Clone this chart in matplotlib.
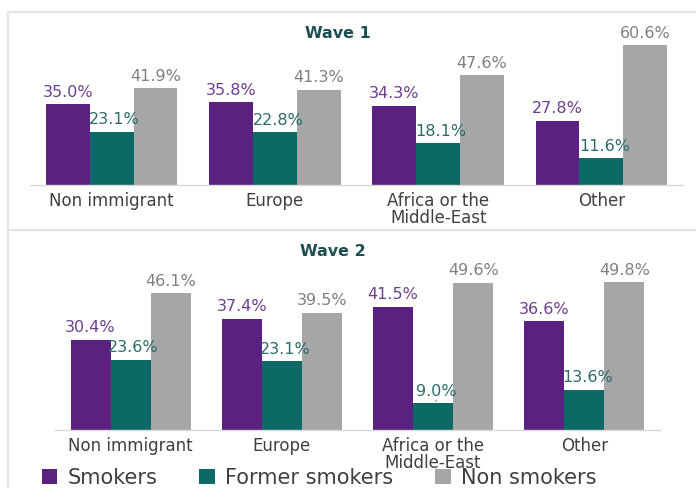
import matplotlib
matplotlib.use("Agg")
import matplotlib.pyplot as plt
from matplotlib.lines import Line2D
import numpy as np

categories = ["Non immigrant", "Europe", "Africa or the\nMiddle-East", "Other"]
series_names = ["Smokers", "Former smokers", "Non smokers"]
wave1_smokers = [35.0, 35.8, 34.3, 27.8]
wave1_former = [23.1, 22.8, 18.1, 11.6]
wave1_non = [41.9, 41.3, 47.6, 60.6]
wave2_smokers = [30.4, 37.4, 41.5, 36.6]
wave2_former = [23.6, 23.1, 9.0, 13.6]
wave2_non = [46.1, 39.5, 49.6, 49.8]

bar_colors = ["#5A2181", "#0C6966", "#A6A6A6"]
label_colors = ["#6E3F8C", "#2E6B69", "#808080"]
title_color = "#1D4F50"

W, H = 696, 488
fig = plt.figure(figsize=(W / 100, H / 100), dpi=100)
fig.patch.set_facecolor("white")

def px_rect(left, right, bottom, top):
    return [left / W, (H - bottom) / H, (right - left) / W, (bottom - top) / H]

def draw_panel(ax, data, width, ymax, pad):
    x = np.arange(len(categories))
    offsets = [-width, 0, width]
    for i, (vals, off) in enumerate(zip(data, offsets)):
        bars = ax.bar(x + off, vals, width, color=bar_colors[i], label=series_names[i])
        for b, v in zip(bars, vals):
            ax.annotate(f"{v:.1f}%", (b.get_x() + b.get_width() / 2, v),
                        xytext=(3 if i == 1 else 0, 12), textcoords="offset pixels",
                        ha="center", va="center", fontsize=11.5, color=label_colors[i])
    ax.set_xlim(-0.5, 3.5)
    ax.set_ylim(0, ymax)
    ax.set_xticks(x)
    ax.set_xticklabels(categories, fontsize=12, color="#404040", linespacing=0.95)
    ax.tick_params(axis="x", length=0, pad=pad)
    ax.set_yticks([])
    for s in ["left", "right", "top"]:
        ax.spines[s].set_visible(False)
    ax.spines["bottom"].set_color("#D9D9D9")
    ax.spines["bottom"].set_linewidth(1)
    ax.set_facecolor("none")

ax1 = fig.add_axes(px_rect(30, 683, 185, 20))
draw_panel(ax1, [wave1_smokers, wave1_former, wave1_non], 0.268, 165 / 2.31, 5)

ax2 = fig.add_axes(px_rect(55, 660, 430, 262))
draw_panel(ax2, [wave2_smokers, wave2_former, wave2_non], 0.265, 168 / 2.97, 5)

# leader line for 9.0%
ax2.annotate("", xy=(2.0, 9.0), xytext=(2.04, 10.6),
             arrowprops=dict(arrowstyle="-", color="#A0A0A0", lw=0.8))

fig.text(338 / W, 1 - 33 / H, "Wave 1", ha="center", va="center",
         fontsize=11.5, fontweight="bold", color=title_color)
fig.text(333 / W, 1 - 252 / H, "Wave 2", ha="center", va="center",
         fontsize=11.5, fontweight="bold", color=title_color)

# panel borders
bc = "#E3E3E3"
fig.add_artist(Line2D([8 / W, 1], [1 - 12 / H, 1 - 12 / H], color=bc, lw=1.5))
fig.add_artist(Line2D([8 / W, 8 / W], [1 - 12 / H, 0], color=bc, lw=1.5))
fig.add_artist(Line2D([8 / W, 1], [1 - 230 / H, 1 - 230 / H], color=bc, lw=1.5))

handles, labels = ax2.get_legend_handles_labels()
leg = fig.legend(handles, labels, loc="center", bbox_to_anchor=(319 / W, 1 - 478 / H),
                 ncol=3, frameon=False, fontsize=15, handlelength=0.75, handleheight=0.75,
                 handletextpad=0.5, columnspacing=2.0, borderaxespad=0)
for t in leg.get_texts():
    t.set_color("#404040")

fig.savefig("out.png", dpi=100)
